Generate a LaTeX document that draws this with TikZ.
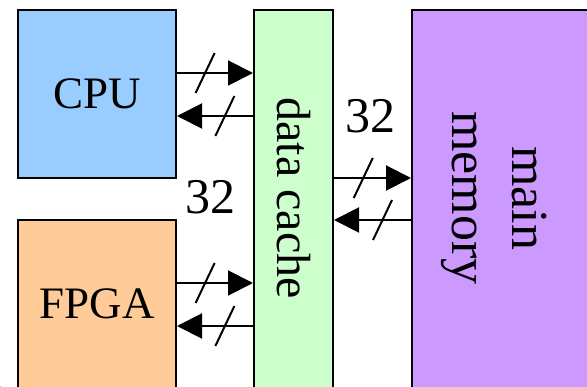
\documentclass[tikz,border=0pt]{standalone}
\usepackage{fontspec}
\setmainfont{Liberation Serif}
\usetikzlibrary{arrows.meta}
\definecolor{cpublue}{HTML}{99CCFF}
\definecolor{fpgaorange}{HTML}{FFCC99}
\definecolor{cachegreen}{HTML}{CCFFCC}
\definecolor{mempurple}{HTML}{CC99FF}
\definecolor{cornerblue}{HTML}{3333CC}
\tikzset{
  unitbox/.style={draw=black, line width=2pt, inner sep=0pt,
    font=\fontsize{45}{52}\selectfont},
  vtext/.style={inner sep=0pt, rotate=-90},
  bus/.style={line width=2pt, -{Triangle[length=25pt,width=25pt]}},
  busslash/.pic={\draw[line width=2pt, arrows=-] (-9.5,20) -- (9.5,-20);},
  widthlabel/.style={inner sep=0pt, font=\fontsize{50}{56}\selectfont}
}
\begin{document}
\begin{tikzpicture}[x=1pt,y=-1pt]
\useasboundingbox (0,0) rectangle (587,387);
\clip (0,0) rectangle (587,387);
\fill[white] (0,0) rectangle (587,387);
% boxes
\node[unitbox, fill=cpublue, minimum width=158pt, minimum height=168pt] (cpu) at (97,94) {CPU};
\node[unitbox, fill=fpgaorange, minimum width=158pt, minimum height=168pt] (fpga) at (97,304) {FPGA};
\node[unitbox, fill=cachegreen, minimum width=79pt, minimum height=400pt] (cache) at (293.5,210) {};
\node[vtext, font=\fontsize{48}{56}\selectfont] (cachetext) at (293.5,198) {data cache};
\node[unitbox, fill=mempurple, minimum width=220pt, minimum height=400pt] (mem) at (522,210) {};
\node[vtext, align=center, font=\fontsize{52}{60}\selectfont] (memtext) at (494,198) {main\\memory};
% bus connection points
\coordinate (c1) at ([yshift=21pt]cpu.east);
\coordinate (c2) at ([yshift=-22pt]cpu.east);
\coordinate (f1) at ([yshift=21pt]fpga.east);
\coordinate (f2) at ([yshift=-22pt]fpga.east);
\coordinate (m1) at (cache.east |- 0,178);
\coordinate (m2) at (cache.east |- 0,220);
% buses
\draw[bus] (c1) -- (c1 -| cache.west) pic[pos=0.37] {busslash};
\draw[bus] (c2 -| cache.west) -- (c2) pic[pos=0.37] {busslash};
\draw[bus] (f1) -- (f1 -| cache.west) pic[pos=0.37] {busslash};
\draw[bus] (f2 -| cache.west) -- (f2) pic[pos=0.37] {busslash};
\draw[bus] (m1) -- (m1 -| mem.west) pic[pos=0.38] {busslash};
\draw[bus] (m2 -| mem.west) -- (m2) pic[pos=0.37] {busslash};
% width labels
\node[widthlabel] (w1) at (210,197) {32};
\node[widthlabel] (w2) at (370,116) {32};
% corner fragment
\fill[cornerblue] (-4,392) circle (7);
\end{tikzpicture}
\end{document}
